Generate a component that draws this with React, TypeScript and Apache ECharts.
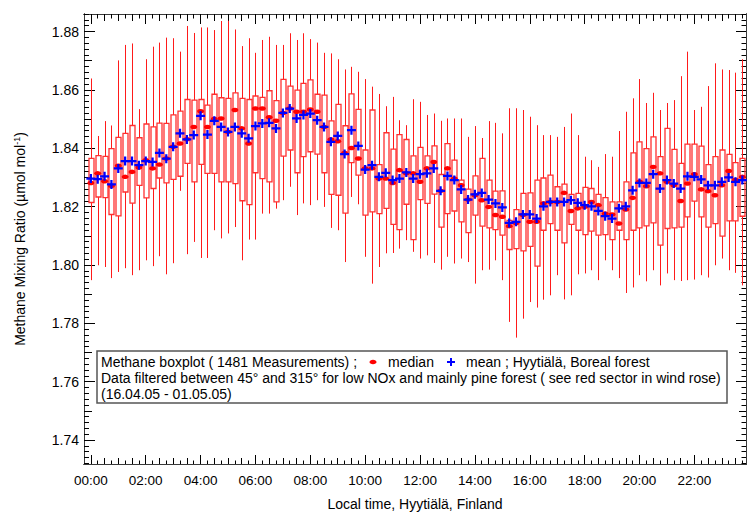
import React, { useEffect, useRef } from 'react';
import * as echarts from 'echarts';

// ---- data (15-minute bins, 00:00 ... 23:45) ----
const whiskerLow = [1.7948,1.7999,1.7993,1.7955,1.7976,1.7989,1.7965,1.7982,1.8016,1.7996,1.8030,1.7968,1.8006,1.8254,1.8037,1.8079,1.8024,1.8024,1.8119,1.8091,1.8108,1.8130,1.8016,1.8087,1.8087,1.8176,1.8176,1.8193,1.8222,1.8268,1.8171,1.8211,1.8205,1.8222,1.8199,1.8127,1.8119,1.8010,1.8233,1.8208,1.8028,1.7936,1.7993,1.8040,1.8041,1.8056,1.8085,1.8045,1.8022,1.8033,1.8007,1.7984,1.8028,1.8005,1.8022,1.8010,1.7936,1.7982,1.7984,1.8016,1.7948,1.7805,1.7751,1.7816,1.7873,1.7854,1.7881,1.7896,1.7965,1.7882,1.7896,1.7968,1.7971,1.7982,1.7948,1.8016,1.7982,1.7955,1.7904,1.7923,1.7965,1.7944,1.7982,1.7930,1.7971,1.7948,1.7945,1.7948,1.7950,1.7965,1.7957,1.7999,1.8022,1.7982,1.7973,1.7930];
const quartile1 = [1.8214,1.8233,1.8231,1.8173,1.8168,1.8250,1.8212,1.8273,1.8230,1.8262,1.8298,1.8281,1.8293,1.8304,1.8348,1.8285,1.8345,1.8314,1.8314,1.8285,1.8285,1.8279,1.8220,1.8207,1.8316,1.8296,1.8285,1.8216,1.8373,1.8394,1.8316,1.8371,1.8388,1.8380,1.8316,1.8242,1.8239,1.8178,1.8351,1.8308,1.8171,1.8182,1.8176,1.8194,1.8139,1.8121,1.8208,1.8087,1.8224,1.8211,1.8243,1.8130,1.8176,1.8185,1.8148,1.8111,1.8171,1.8133,1.8127,1.8121,1.8102,1.8053,1.8056,1.8048,1.8064,1.7996,1.8119,1.8142,1.8119,1.8076,1.8139,1.8119,1.8104,1.8116,1.8102,1.8104,1.8087,1.8119,1.8087,1.8119,1.8127,1.8134,1.8144,1.8068,1.8125,1.8127,1.8130,1.8165,1.8219,1.8165,1.8130,1.8142,1.8099,1.8151,1.8151,1.8167];
const medians = [1.8281,1.8314,1.8287,1.8271,1.8340,1.8302,1.8319,1.8334,1.8359,1.8331,1.8344,1.8365,1.8405,1.8416,1.8431,1.8473,1.8527,1.8473,1.8500,1.8502,1.8456,1.8531,1.8468,1.8416,1.8536,1.8536,1.8506,1.8494,1.8521,1.8536,1.8525,1.8525,1.8533,1.8525,1.8473,1.8430,1.8424,1.8384,1.8401,1.8365,1.8331,1.8331,1.8296,1.8296,1.8281,1.8325,1.8314,1.8314,1.8285,1.8331,1.8353,1.8254,1.8331,1.8296,1.8273,1.8224,1.8239,1.8222,1.8199,1.8171,1.8165,1.8133,1.8144,1.8171,1.8148,1.8148,1.8211,1.8216,1.8216,1.8247,1.8185,1.8194,1.8199,1.8216,1.8205,1.8176,1.8173,1.8142,1.8190,1.8230,1.8285,1.8270,1.8336,1.8314,1.8285,1.8273,1.8219,1.8279,1.8311,1.8259,1.8253,1.8239,1.8273,1.8322,1.8291,1.8302];
const quartile3 = [1.8365,1.8375,1.8372,1.8399,1.8437,1.8451,1.8478,1.8436,1.8483,1.8473,1.8486,1.8485,1.8514,1.8527,1.8567,1.8565,1.8567,1.8548,1.8585,1.8573,1.8571,1.8590,1.8571,1.8567,1.8579,1.8574,1.8597,1.8563,1.8636,1.8613,1.8599,1.8622,1.8634,1.8585,1.8582,1.8494,1.8550,1.8477,1.8586,1.8533,1.8394,1.8531,1.8344,1.8453,1.8397,1.8447,1.8430,1.8374,1.8403,1.8374,1.8408,1.8310,1.8416,1.8359,1.8291,1.8260,1.8305,1.8365,1.8291,1.8253,1.8254,1.8153,1.8190,1.8245,1.8247,1.8291,1.8298,1.8308,1.8268,1.8277,1.8242,1.8245,1.8266,1.8262,1.8242,1.8231,1.8216,1.8216,1.8285,1.8384,1.8422,1.8399,1.8439,1.8371,1.8468,1.8396,1.8348,1.8414,1.8414,1.8407,1.8344,1.8371,1.8394,1.8379,1.8351,1.8365];
const whiskerHigh = [1.8639,1.8442,1.8493,1.8478,1.8701,1.8754,1.8759,1.8534,1.8705,1.8748,1.8762,1.8779,1.8777,1.8731,1.8819,1.8795,1.8814,1.8814,1.8805,1.8836,1.8837,1.8807,1.8750,1.8777,1.8727,1.8771,1.8782,1.8754,1.8754,1.8794,1.8771,1.8794,1.8774,1.8762,1.8727,1.8725,1.8705,1.8670,1.8679,1.8662,1.8637,1.8611,1.8586,1.8544,1.8576,1.8496,1.8479,1.8568,1.8559,1.8514,1.8519,1.8494,1.8502,1.8502,1.8502,1.8439,1.8476,1.8435,1.8493,1.8487,1.8451,1.8537,1.8537,1.8531,1.8508,1.8479,1.8445,1.8445,1.8439,1.8473,1.8519,1.8445,1.8371,1.8359,1.8336,1.8380,1.8371,1.8459,1.8525,1.8571,1.8637,1.8555,1.8590,1.8531,1.8555,1.8565,1.8647,1.8731,1.8531,1.8542,1.8613,1.8691,1.8670,1.8668,1.8659,1.8705];
const means = [1.8296,1.8294,1.8304,1.8276,1.8331,1.8356,1.8356,1.8342,1.8356,1.8353,1.8384,1.8364,1.8405,1.8451,1.8430,1.8445,1.8511,1.8447,1.8494,1.8473,1.8456,1.8473,1.8451,1.8434,1.8476,1.8485,1.8487,1.8468,1.8521,1.8536,1.8502,1.8514,1.8519,1.8496,1.8473,1.8422,1.8442,1.8380,1.8462,1.8408,1.8327,1.8342,1.8302,1.8316,1.8291,1.8296,1.8317,1.8296,1.8311,1.8314,1.8331,1.8254,1.8305,1.8291,1.8259,1.8224,1.8242,1.8247,1.8224,1.8211,1.8197,1.8144,1.8148,1.8173,1.8173,1.8159,1.8201,1.8216,1.8216,1.8216,1.8222,1.8213,1.8205,1.8201,1.8185,1.8167,1.8159,1.8194,1.8201,1.8256,1.8281,1.8281,1.8311,1.8262,1.8291,1.8279,1.8262,1.8304,1.8302,1.8293,1.8273,1.8273,1.8285,1.8300,1.8285,1.8291];

const xTickLabels = ['00:00','02:00','04:00','06:00','08:00','10:00','12:00','14:00','16:00','18:00','20:00','22:00'];
const yTickLabels = ['1.74','1.76','1.78','1.80','1.82','1.84','1.86','1.88'];

const legendLine1a = 'Methane boxplot ( 1481 Measurements) ;';
const legendMedian = 'median';
const legendMean = 'mean ; Hyytiälä, Boreal forest';
const legendLine2 = 'Data filtered between 45° and 315° for low NOx and mainly pine forest ( see red sector in wind rose)';
const legendLine3 = '(16.04.05 - 01.05.05)';
const xTitle = 'Local time, Hyytiälä, Finland';

const FONT = '"Liberation Sans", Arial, Helvetica, sans-serif';
const X_MIN = -15;
const X_MAX = 1433;
const Y_MIN = 1.7318;
const Y_MAX = 1.886;
const BIN = 15;

const toMin = (s: string) => parseInt(s.slice(0, 2), 10) * 60 + parseInt(s.slice(3), 10);
const xMajor = xTickLabels.map(toMin);
const xMedium: number[] = [];
for (let m = 0; m <= 1410; m += 30) xMedium.push(m);
const xMinor: number[] = [];
for (let m = 0; m <= 1425; m += 15) xMinor.push(m);
const yMajor = yTickLabels.map(parseFloat);
const yMedium: number[] = [];
for (let k = 174; k <= 188; k++) yMedium.push(k / 100);
const yMinor: number[] = [];
for (let k = 866; k <= 943; k++) yMinor.push(k / 500);

const LINE = '#3a3a3a';

function xAx(pos: string, ticks: number[], len: number, extra: any = {}) {
  return {
    type: 'value', position: pos, min: X_MIN, max: X_MAX,
    axisLine: { show: true, onZero: false, lineStyle: { color: LINE, width: 1 } },
    axisTick: { show: true, inside: true, length: len, customValues: ticks, lineStyle: { color: '#000', width: 1 } },
    axisLabel: { show: false },
    splitLine: { show: false },
    ...extra,
  };
}
function yAx(pos: string, ticks: number[], len: number, extra: any = {}) {
  return {
    type: 'value', position: pos, min: Y_MIN, max: Y_MAX,
    axisLine: { show: true, onZero: false, lineStyle: { color: LINE, width: 1 } },
    axisTick: { show: true, inside: true, length: len, customValues: ticks, lineStyle: { color: '#000', width: 1 } },
    axisLabel: { show: false },
    splitLine: { show: false },
    ...extra,
  };
}

export default function App() {
  const ref = useRef<HTMLDivElement>(null);
  useEffect(() => {
    if (!ref.current) return;
    const chart = echarts.init(ref.current, null, { renderer: 'svg' });
    const boxData = medians.map((_, i) => [i * BIN, whiskerLow[i], quartile1[i], medians[i], quartile3[i], whiskerHigh[i]]);
    const medData = medians.map((v, i) => [i * BIN, v]);
    const meanData = means.map((v, i) => [i * BIN, v]);
    const LF = `14px ${FONT}`;

    const option: any = {
      animation: false,
      backgroundColor: '#fff',
      textStyle: { fontFamily: FONT },
      grid: { left: 84, right: 1, top: 14, bottom: 52, containLabel: false },
      xAxis: [
        xAx('bottom', xMajor, 9, {
          axisLabel: {
            show: true, customValues: xMajor, margin: 9, color: '#000', fontSize: 13.5, fontFamily: FONT,
            formatter: (v: number) => { const k = xMajor.indexOf(Math.round(v)); return k >= 0 ? xTickLabels[k] : ''; },
          },
          name: xTitle, nameLocation: 'middle', nameGap: 33,
          nameTextStyle: { color: '#000', fontSize: 14, fontFamily: FONT },
        }),
        xAx('bottom', xMedium, 6),
        xAx('bottom', xMinor, 3.5),
        xAx('top', xMajor, 10),
        xAx('top', xMedium, 7),
        xAx('top', xMinor, 4.5),
      ],
      yAxis: [
        yAx('left', yMajor, 11, {
          axisLabel: {
            show: true, customValues: yMajor, margin: 5, color: '#000', fontSize: 14, fontFamily: FONT,
            formatter: (v: number) => { const k = yMajor.findIndex((t) => Math.abs(t - v) < 1e-6); return k >= 0 ? yTickLabels[k] : ''; },
          },
          name: '{t|Methane Mixing Ratio (µmol mol}{s|-1}{t|)}',
          nameLocation: 'middle', nameGap: 56, nameRotate: 90,
          nameTextStyle: {
            color: '#000', fontSize: 14, fontFamily: FONT,
            rich: {
              t: { fontSize: 14, fontFamily: FONT, color: '#000' },
              s: { fontSize: 9, fontFamily: FONT, color: '#000', padding: [0, 0, 7, 0] },
            },
          },
        }),
        yAx('left', yMedium, 8),
        yAx('left', yMinor, 5),
        yAx('right', yMajor, 10),
        yAx('right', yMedium, 7),
        yAx('right', yMinor, 4.5),
      ],
      series: [
        {
          type: 'custom', xAxisIndex: 0, yAxisIndex: 0, clip: true, z: 2,
          data: boxData,
          encode: { x: 0, y: [1, 2, 3, 4, 5] },
          renderItem: (params: any, api: any) => {
            const x = api.value(0);
            const lo = api.coord([x, api.value(1)]);
            const q1 = api.coord([x, api.value(2)]);
            const q3 = api.coord([x, api.value(4)]);
            const hi = api.coord([x, api.value(5)]);
            const w = 5;
            const cx = Math.round(lo[0]) + 0.5;
            return {
              type: 'group',
              children: [
                { type: 'line', shape: { x1: cx, y1: lo[1], x2: cx, y2: q1[1] }, style: { stroke: '#ff1a1a', lineWidth: 1 } },
                { type: 'line', shape: { x1: cx, y1: q3[1], x2: cx, y2: hi[1] }, style: { stroke: '#ff1a1a', lineWidth: 1 } },
                { type: 'rect', shape: { x: cx - w / 2, y: q3[1], width: w, height: q1[1] - q3[1] }, style: { fill: 'none', stroke: '#ff3030', lineWidth: 1.3 } },
              ],
            };
          },
        },
        {
          type: 'scatter', name: 'median', xAxisIndex: 0, yAxisIndex: 0, z: 3,
          data: medData, symbol: 'circle', symbolSize: [7, 4.5],
          itemStyle: { color: '#ff0000', opacity: 1 },
        },
        {
          type: 'scatter', name: 'mean', xAxisIndex: 0, yAxisIndex: 0, z: 4,
          data: meanData, symbol: 'path://M3,0H5V3H8V5H5V8H3V5H0V3H3Z', symbolSize: 9,
          itemStyle: { color: '#0000ff', opacity: 1 },
        },
      ],
      graphic: [
        {
          type: 'group', z: 100,
          children: [
            { type: 'rect', shape: { x: 97, y: 351, width: 630, height: 52 }, style: { fill: '#fff', stroke: '#555', lineWidth: 1.5 } },
            { type: 'text', x: 101, y: 362, style: { text: legendLine1a, font: LF, fill: '#000', textVerticalAlign: 'middle' } },
            { type: 'ellipse', shape: { cx: 373, cy: 362, rx: 3.5, ry: 2.3 }, style: { fill: '#ff0000' } },
            { type: 'text', x: 388, y: 362, style: { text: legendMedian, font: LF, fill: '#000', textVerticalAlign: 'middle' } },
            { type: 'rect', shape: { x: 447, y: 361, width: 8, height: 2 }, style: { fill: '#0000ff' } },
            { type: 'rect', shape: { x: 450, y: 358, width: 2, height: 8 }, style: { fill: '#0000ff' } },
            { type: 'text', x: 466, y: 362, style: { text: legendMean, font: LF, fill: '#000', textVerticalAlign: 'middle' } },
            { type: 'text', x: 101, y: 377.5, style: { text: legendLine2, font: LF, fill: '#000', textVerticalAlign: 'middle' } },
            { type: 'text', x: 101, y: 393.5, style: { text: legendLine3, font: LF, fill: '#000', textVerticalAlign: 'middle' } },
          ],
        },
      ],
    };
    chart.setOption(option);
    return () => chart.dispose();
  }, []);
  return <div ref={ref} style={{ position: 'fixed', left: 0, top: 0, width: 747, height: 516, background: '#fff' }} />;
}
